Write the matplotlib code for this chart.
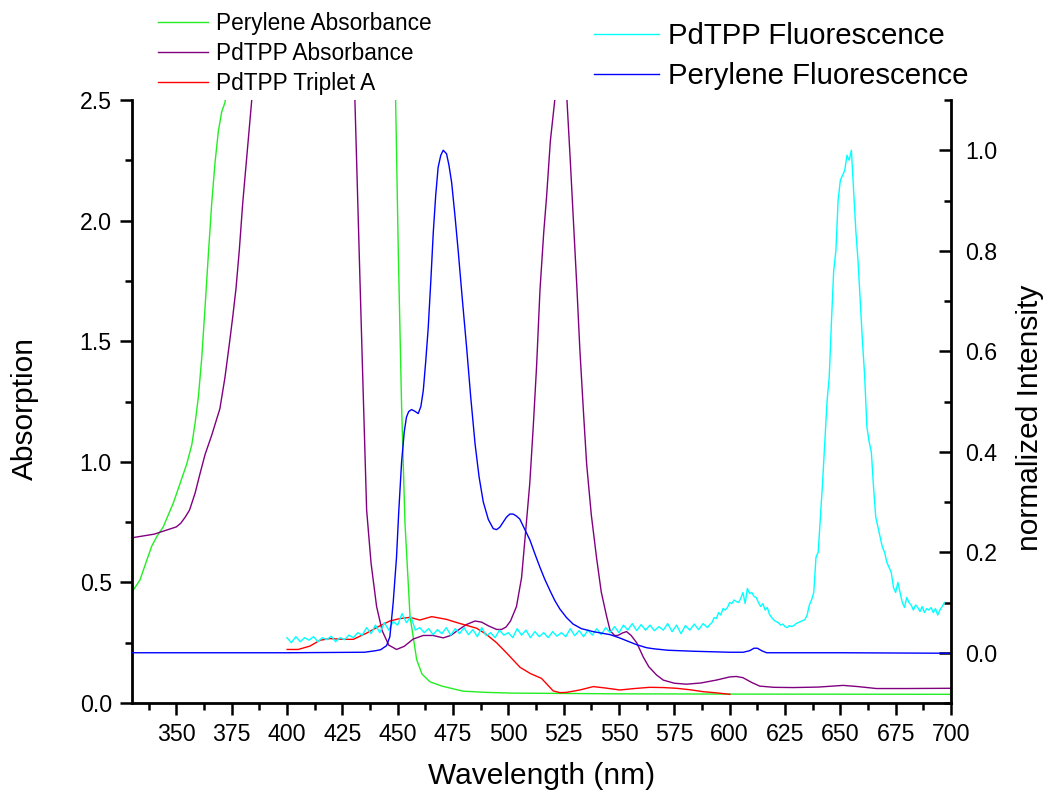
import matplotlib
matplotlib.use("Agg")
import matplotlib.pyplot as plt
from matplotlib.ticker import MultipleLocator
from matplotlib.lines import Line2D

plt.rcParams['font.family'] = ['Liberation Sans', 'DejaVu Sans']

# ---------------- data ----------------
per_abs_x = [330, 333.6, 336.6, 338.9, 341.2, 344.1, 348.7, 351.7, 354.7, 357, 358.5, 360, 361.5, 363,
             364.5, 366, 367.5, 369, 370.5, 372, 374, 380, 440, 447, 449, 450.3, 451.8, 453.3, 455.6,
             458.6, 461, 464.6, 470, 479.6, 490, 502, 550, 600, 700]
per_abs_y = [0.46, 0.51, 0.59, 0.65, 0.69, 0.73, 0.83, 0.91, 0.99, 1.07, 1.16, 1.27, 1.43, 1.64,
             1.86, 2.07, 2.24, 2.37, 2.45, 2.49, 2.6, 3.0, 3.0, 2.7, 2.55, 1.87, 1.23, 0.75, 0.36,
             0.18, 0.12, 0.088, 0.07, 0.049, 0.044, 0.041, 0.038, 0.037, 0.036]

pd_abs_x = [330, 340, 345, 350, 352, 354, 356, 358.5, 360.7, 363, 366, 369.7, 372, 374, 375.5, 377,
            378.5, 380, 382, 384, 386, 390, 428, 430.7, 433, 434.5, 436, 438, 440.5, 443, 446,
            449.5, 453, 457, 461.6, 466, 470.6, 474, 477, 481, 485, 488, 491, 494.7, 497, 499, 501,
            503.7, 506, 508.2, 509.7, 511.3, 512.8, 514.3, 516, 517.3, 519, 521, 523, 525, 526.5,
            528, 529.3, 531, 532.3, 534, 535.4, 537.5, 539.9, 542, 544.4, 546, 548, 549.5, 551.5,
            553.4, 555.5, 558, 561, 563.5, 567, 570, 575, 580.5, 587, 594, 600, 603, 606, 610,
            613.6, 620, 628.7, 640, 651.3, 658, 666.3, 680, 700]
pd_abs_y = [0.685, 0.70, 0.715, 0.73, 0.745, 0.77, 0.80, 0.87, 0.95, 1.03, 1.11, 1.22, 1.35, 1.49,
            1.60, 1.72, 1.88, 2.07, 2.28, 2.49, 2.7, 3.0, 3.0, 2.5, 1.75, 1.27, 0.80, 0.58, 0.40,
            0.30, 0.24, 0.222, 0.235, 0.265, 0.28, 0.28, 0.27, 0.28, 0.30, 0.325, 0.34, 0.335,
            0.32, 0.305, 0.305, 0.315, 0.34, 0.40, 0.52, 0.75, 0.91, 1.15, 1.40, 1.71, 1.95, 2.10,
            2.33, 2.5, 2.65, 2.66, 2.5, 2.25, 2.02, 1.72, 1.47, 1.20, 0.99, 0.78, 0.60, 0.46, 0.36,
            0.30, 0.28, 0.28, 0.29, 0.296, 0.28, 0.25, 0.19, 0.15, 0.116, 0.095, 0.082, 0.078,
            0.083, 0.095, 0.108, 0.11, 0.105, 0.085, 0.07, 0.065, 0.064, 0.066, 0.073, 0.068,
            0.06, 0.06, 0.061]

trip_x = [400.1, 405.1, 410.4, 414.9, 419.4, 425.4, 430, 436, 442, 446.5, 451, 455.6, 460, 465.4,
          472, 478, 485.7, 490, 494.7, 500, 505.3, 510, 515, 520.3, 523.3, 526.3, 532.3, 538.4,
          544, 550.4, 557, 563.9, 570, 576, 582, 588, 594, 600.1]
trip_y = [0.222, 0.222, 0.236, 0.26, 0.267, 0.264, 0.264, 0.29, 0.32, 0.34, 0.35, 0.355, 0.344,
          0.358, 0.347, 0.33, 0.31, 0.285, 0.25, 0.2, 0.148, 0.122, 0.102, 0.05, 0.043, 0.044,
          0.054, 0.068, 0.062, 0.054, 0.06, 0.065, 0.064, 0.061, 0.055, 0.047, 0.042, 0.036]

per_fl_x = [330, 400, 435, 440, 442.3, 445, 446.5, 448, 449.5, 450.5, 451.8, 453, 454, 455, 456.3,
            458, 459.3, 460.5, 461.6, 462.7, 463.8, 465, 466.1, 467.2, 468.3, 469.5, 470.6, 472.1,
            473.2, 474.4, 475.9, 477.4, 479.3, 481.2, 483, 485, 486.8, 488.7, 491, 493.2, 494.7,
            496.2, 497.7, 499.2, 500.7, 502.2, 503.7, 505.2, 507.5, 509.8, 512, 514.3, 516.5, 518.8,
            521, 523.3, 526.3, 529.3, 533, 538.4, 546, 550, 553.4, 558, 562.5, 565.5, 572, 583.6,
            600, 606.1, 609, 611, 612.5, 614.5, 616.7, 650, 700]
per_fl_y = [0.0, 0.0, 0.001, 0.004, 0.006, 0.014, 0.032, 0.1, 0.19, 0.28, 0.38, 0.44, 0.469, 0.48,
            0.484, 0.48, 0.476, 0.49, 0.522, 0.58, 0.645, 0.74, 0.836, 0.91, 0.966, 0.99, 1.0, 0.993,
            0.97, 0.936, 0.87, 0.798, 0.70, 0.606, 0.51, 0.415, 0.35, 0.30, 0.265, 0.247, 0.245,
            0.25, 0.26, 0.27, 0.276, 0.276, 0.272, 0.266, 0.245, 0.224, 0.197, 0.17, 0.146, 0.124,
            0.104, 0.087, 0.07, 0.057, 0.048, 0.042, 0.036, 0.03, 0.024, 0.016, 0.01, 0.008, 0.005,
            0.003, 0.001, 0.001, 0.004, 0.009, 0.009, 0.004, 0.0, 0.0, -0.001]

pd_fl_x = [400, 402, 404, 406, 408, 410, 412, 414, 416, 418, 420, 422, 424, 426, 428, 430, 432, 434,
           436, 438, 440, 442, 444, 446, 448, 450, 452, 454, 456, 458, 460, 462, 464, 466, 468, 470,
           472, 474, 476, 478, 480, 482, 484, 486, 488, 490, 492, 494, 496, 498, 500, 502, 504, 506,
           508, 510, 512, 514, 516, 518, 520, 522, 524, 526, 528, 530, 532, 534, 536, 538, 540, 542,
           544, 546, 548, 550, 552, 554, 556, 558, 560, 562, 564, 566, 568, 570, 572, 574, 576, 578,
           580, 582, 584, 586, 588, 590,
           591, 592, 593, 594, 595, 596, 597, 598, 599, 600, 601, 602, 603, 604, 605, 606, 607, 608,
           609, 610, 611, 612, 613, 614, 615, 616, 617, 618, 619, 620, 621, 622, 623, 624, 625, 626,
           627, 628, 629, 630, 631, 632, 633, 634, 635, 636, 637, 638, 639, 640, 641, 642, 643, 644,
           645, 646, 647, 648, 649, 650, 651, 652, 653, 654, 655, 656, 657, 658, 659, 660, 661, 662,
           663, 664, 665, 666, 667, 668, 669, 670, 671, 672, 673, 674, 675, 676, 677, 678, 679, 680,
           681, 682, 683, 684, 685, 686, 687, 688, 689, 690, 691, 692, 693, 694, 695, 696, 697]
pd_fl_y = [0.03, 0.02, 0.032, 0.022, 0.03, 0.025, 0.032, 0.022, 0.03, 0.026, 0.033, 0.022, 0.03,
           0.026, 0.035, 0.03, 0.04, 0.035, 0.05, 0.038, 0.055, 0.04, 0.06, 0.045, 0.062, 0.055,
           0.078, 0.06, 0.072, 0.045, 0.05, 0.04, 0.048, 0.036, 0.046, 0.038, 0.05, 0.035, 0.048,
           0.038, 0.05, 0.036, 0.046, 0.032, 0.05, 0.034, 0.04, 0.03, 0.045, 0.035, 0.04, 0.03,
           0.048, 0.035, 0.045, 0.03, 0.042, 0.032, 0.04, 0.03, 0.042, 0.033, 0.04, 0.032, 0.048,
           0.034, 0.044, 0.032, 0.045, 0.035, 0.048, 0.036, 0.05, 0.04, 0.052, 0.04, 0.055, 0.045,
           0.058, 0.044, 0.056, 0.045, 0.055, 0.044, 0.052, 0.045, 0.058, 0.042, 0.055, 0.038,
           0.054, 0.045, 0.057, 0.046, 0.058, 0.05,
           0.056, 0.06, 0.07, 0.068, 0.08, 0.075, 0.088, 0.085, 0.09, 0.1, 0.098, 0.105, 0.102, 0.1,
           0.108, 0.12, 0.098, 0.128, 0.118, 0.12, 0.112, 0.11, 0.1, 0.092, 0.098, 0.085, 0.09,
           0.076, 0.07, 0.065, 0.062, 0.06, 0.055, 0.057, 0.052, 0.05, 0.054, 0.052, 0.054, 0.058,
           0.06, 0.062, 0.064, 0.066, 0.075, 0.095, 0.105, 0.12, 0.19, 0.2, 0.27, 0.34, 0.42, 0.5,
           0.55, 0.66, 0.76, 0.8, 0.9, 0.94, 0.95, 0.96, 0.99, 0.98, 1.0, 0.92, 0.84, 0.78, 0.7,
           0.62, 0.55, 0.45, 0.42, 0.40, 0.33, 0.27, 0.25, 0.23, 0.21, 0.2, 0.18, 0.17, 0.16, 0.13,
           0.12, 0.14, 0.12, 0.1, 0.09, 0.11, 0.1, 0.095, 0.085, 0.095, 0.09, 0.082, 0.092, 0.08,
           0.088, 0.085, 0.09, 0.08, 0.088, 0.075, 0.085, 0.092, 0.1]

left_labels = ['Perylene Absorbance', 'PdTPP Absorbance', 'PdTPP Triplet A']
right_labels = ['PdTPP Fluorescence', 'Perylene Fluorescence']

# ---------------- figure ----------------
W, H = 1045, 796
fig = plt.figure(figsize=(W / 100, H / 100), dpi=100)
x0, x1, y0, y1 = 132, 951, 100, 703
ax = fig.add_axes([x0 / W, (H - y1) / H, (x1 - x0) / W, (y1 - y0) / H])
ax2 = ax.twinx()

lw = 1.0
c_green, c_purple, c_red, c_cyan, c_blue = '#22ee22', '#800080', '#ff0000', '#00ffff', '#0000ff'
ax.plot(per_abs_x, per_abs_y, color=c_green, lw=lw)
ax.plot(pd_abs_x, pd_abs_y, color=c_purple, lw=lw)
ax.plot(trip_x, trip_y, color=c_red, lw=lw)
ax2.plot(pd_fl_x, pd_fl_y, color=c_cyan, lw=lw)
ax2.plot(per_fl_x, per_fl_y, color=c_blue, lw=lw)

ax.set_xlim(330, 700)
ax.set_ylim(0, 2.5)
ax2.set_ylim(-0.1, 1.1)

for s in ['top', 'right']:
    ax.spines[s].set_visible(False)
for s in ['top', 'left', 'bottom']:
    ax2.spines[s].set_visible(False)
for s in ['left', 'bottom']:
    ax.spines[s].set_linewidth(2.0)
ax2.spines['right'].set_linewidth(2.0)

ax.xaxis.set_major_locator(MultipleLocator(25))
ax.xaxis.set_minor_locator(MultipleLocator(12.5))
ax.yaxis.set_major_locator(MultipleLocator(0.5))
ax.yaxis.set_minor_locator(MultipleLocator(0.25))
ax2.yaxis.set_major_locator(MultipleLocator(0.2))
ax2.yaxis.set_minor_locator(MultipleLocator(0.1))

ax.set_xticks([350, 375, 400, 425, 450, 475, 500, 525, 550, 575, 600, 625, 650, 675, 700])
ax.tick_params(axis='both', which='major', direction='out', length=8.5, width=1.8, labelsize=16.7, pad=6)
ax.tick_params(axis='both', which='minor', direction='out', length=5, width=1.8)
ax2.tick_params(axis='y', which='major', direction='in', length=8.5, width=1.8, labelsize=16.7, pad=10)
ax2.tick_params(axis='y', which='minor', direction='in', length=5, width=1.8)
ax.yaxis.set_major_formatter(plt.FormatStrFormatter('%.1f'))
ax2.yaxis.set_major_formatter(plt.FormatStrFormatter('%.1f'))

ax.set_xlabel('Wavelength (nm)', fontsize=21.5)
ax.xaxis.set_label_coords(0.5, -(776 - y1) / (y1 - y0))
ax.xaxis.label.set_va('center')
ax.set_ylabel('Absorption', fontsize=21.5)
ax.yaxis.set_label_coords((25 - x0) / (x1 - x0), (y1 - 408) / (y1 - y0))
ax.yaxis.label.set_va('center')
ax2.set_ylabel('normalized Intensity', fontsize=21.5)
ax2.yaxis.set_label_coords((1030 - x0) / (x1 - x0), (y1 - 418) / (y1 - y0))
ax2.yaxis.label.set_va('center')

h_left = [Line2D([], [], color=c, lw=lw) for c in (c_green, c_purple, c_red)]
h_right = [Line2D([], [], color=c, lw=lw) for c in (c_cyan, c_blue)]
fig.legend(h_left, left_labels, loc='upper left', bbox_to_anchor=(158 / W, 1 - 12 / H),
           frameon=False, fontsize=16.3, handlelength=2.2, handletextpad=0.35,
           labelspacing=0.3, borderpad=0, borderaxespad=0)
fig.legend(h_right, right_labels, loc='upper left', bbox_to_anchor=(594 / W, 1 - 22 / H),
           frameon=False, fontsize=21.2, handlelength=2.2, handletextpad=0.3,
           labelspacing=0.41, borderpad=0, borderaxespad=0)

fig.savefig('out.png', dpi=100)
